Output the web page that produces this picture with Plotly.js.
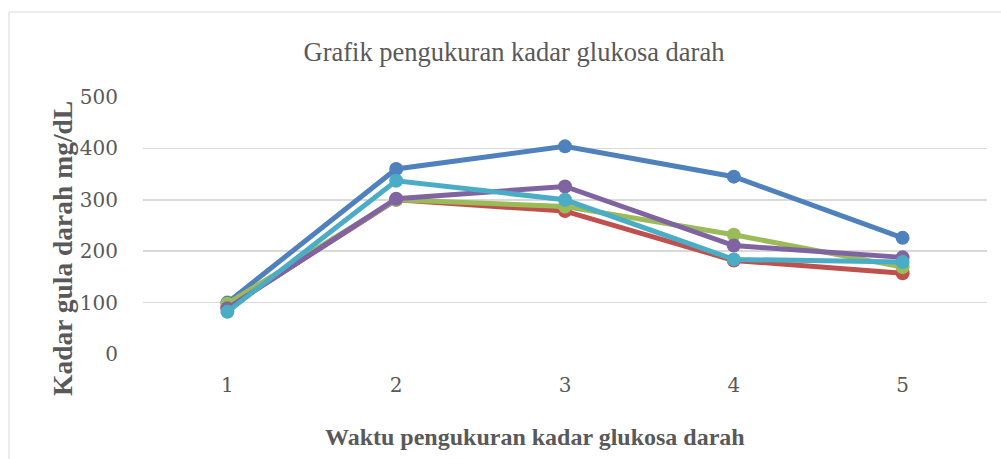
<!DOCTYPE html>
<html>
<head>
<meta charset="utf-8">
<script src="https://cdn.plot.ly/plotly-3.0.1.min.js"></script>
<style>
html,body{margin:0;padding:0;background:#fff;}
#chart{width:1001px;height:459px;}
</style>
</head>
<body>
<div id="chart"></div>
<script>
const categories = ["1", "2", "3", "4", "5"];
const series1 = [100, 360, 404, 345, 226];
const series2 = [90, 300, 278, 182, 157];
const series3 = [98, 300, 287, 232, 169];
const series4 = [89, 302, 326, 211, 188];
const series5 = [82, 337, 300, 184, 179];
const seriesNames = ["Series1", "Series2", "Series3", "Series4", "Series5"];
const colors = ["#4F81BD", "#C0504D", "#9BBB59", "#8064A2", "#4BACC6"];
const yTicks = [0, 100, 200, 300, 400, 500];
const chartTitle = "Grafik pengukuran kadar glukosa darah";
const xTitle = "Waktu pengukuran kadar glukosa darah";
const yTitle = "Kadar gula darah mg/dL";

const allSeries = [series1, series2, series3, series4, series5];
const traces = allSeries.map((s, i) => ({
  type: "scatter",
  mode: "lines+markers",
  x: categories,
  y: s,
  name: seriesNames[i],
  line: {color: colors[i], width: 5},
  marker: {color: colors[i], size: 14},
  cliponaxis: false
}));

const SERIF = "'Liberation Serif', 'Times New Roman', serif";
const TICKF = "'DejaVu Serif', serif";
const L = 143, R = 987, T = 97, B = 354, W = 1001, H = 459;
const pw = R - L, ph = B - T;
const px = v => (v - L) / pw;
const py = v => (B - v) / ph;

const layout = {
  width: W, height: H,
  margin: {l: L, r: W - R, t: T, b: H - B, pad: 0},
  paper_bgcolor: "#fff",
  plot_bgcolor: "#fff",
  showlegend: false,
  font: {family: SERIF},
  title: {
    text: chartTitle,
    font: {family: SERIF, size: 26.5, color: "#595959"},
    x: 0.5135, xanchor: "center",
    y: 1 - 52 / H, yanchor: "middle"
  },
  xaxis: {
    type: "category",
    range: [-0.5, 4.5],
    showgrid: false,
    zeroline: false,
    showline: false,
    ticks: "outside", ticklen: 13, tickcolor: "rgba(0,0,0,0)",
    tickfont: {family: TICKF, size: 20, color: "#595959"},
    automargin: false
  },
  yaxis: {
    range: [0, 500],
    tickvals: yTicks,
    ticktext: yTicks.map(String),
    showgrid: true,
    gridcolor: "#D9D9D9",
    gridwidth: 1.5,
    zeroline: false,
    showline: false,
    ticks: "outside", ticklen: 20, tickcolor: "rgba(0,0,0,0)",
    tickfont: {family: TICKF, size: 20, color: "#595959"},
    automargin: false
  },
  annotations: [
    {
      text: "<b>" + xTitle + "</b>",
      xref: "paper", yref: "paper",
      x: px(535), y: py(437), xanchor: "center", yanchor: "middle",
      showarrow: false,
      font: {family: SERIF, size: 24, color: "#595959"}
    },
    {
      text: "<b>" + yTitle + "</b>",
      xref: "paper", yref: "paper",
      x: px(62), y: py(249), xanchor: "center", yanchor: "middle",
      textangle: -90,
      showarrow: false,
      font: {family: SERIF, size: 27.5, color: "#595959"}
    }
  ],
  shapes: [{
    type: "rect", xref: "paper", yref: "paper",
    x0: px(9), x1: px(1005),
    y0: py(465), y1: py(12),
    line: {color: "#D9D9D9", width: 1},
    fillcolor: "rgba(0,0,0,0)",
    layer: "below"
  }]
};

Plotly.newPlot("chart", traces, layout, {displayModeBar: false, staticPlot: true});
</script>
</body>
</html>
